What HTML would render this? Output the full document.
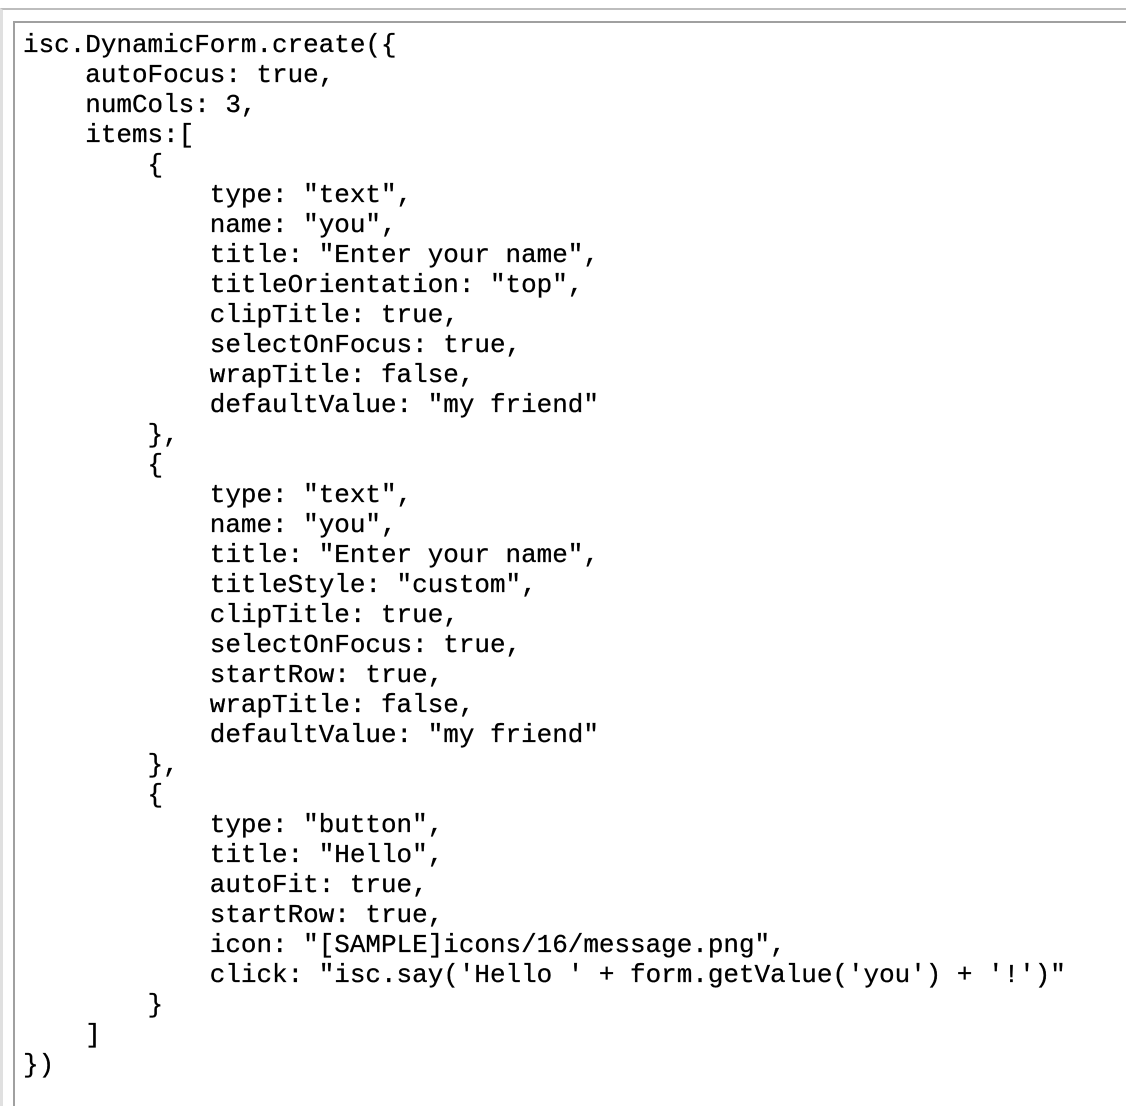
<!DOCTYPE html>
<html><head><meta charset="utf-8"><style>
html,body{margin:0;padding:0;background:#fff;width:1126px;height:1106px;overflow:hidden}
.outer{position:absolute;left:0;top:8px;width:1126px;height:1098px;border-top:2px solid #bdbdbd;border-left:3px solid #e0e0e0;box-sizing:border-box}
.inner{position:absolute;left:13px;top:21px;width:1113px;height:1085px;border-top:2px solid #a0a0a0;border-left:2px solid #a0a0a0;box-sizing:border-box}
pre{position:absolute;left:23px;top:30px;margin:0;font-family:"Liberation Mono","DejaVu Sans Mono",monospace;font-size:25.95px;line-height:30px;color:#000;-webkit-text-stroke:0.3px #000}
</style></head><body>
<div class="outer"></div>
<div class="inner"></div>
<pre>isc.DynamicForm.create({
    autoFocus: true,
    numCols: 3,
    items:[
        {
            type: "text",
            name: "you",
            title: "Enter your name",
            titleOrientation: "top",
            clipTitle: true,
            selectOnFocus: true,
            wrapTitle: false,
            defaultValue: "my friend"
        },
        {
            type: "text",
            name: "you",
            title: "Enter your name",
            titleStyle: "custom",
            clipTitle: true,
            selectOnFocus: true,
            startRow: true,
            wrapTitle: false,
            defaultValue: "my friend"
        },
        {
            type: "button",
            title: "Hello",
            autoFit: true,
            startRow: true,
            icon: "[SAMPLE]icons/16/message.png",
            click: "isc.say('Hello ' + form.getValue('you') + '!')"
        }
    ]
})</pre>
</body></html>
